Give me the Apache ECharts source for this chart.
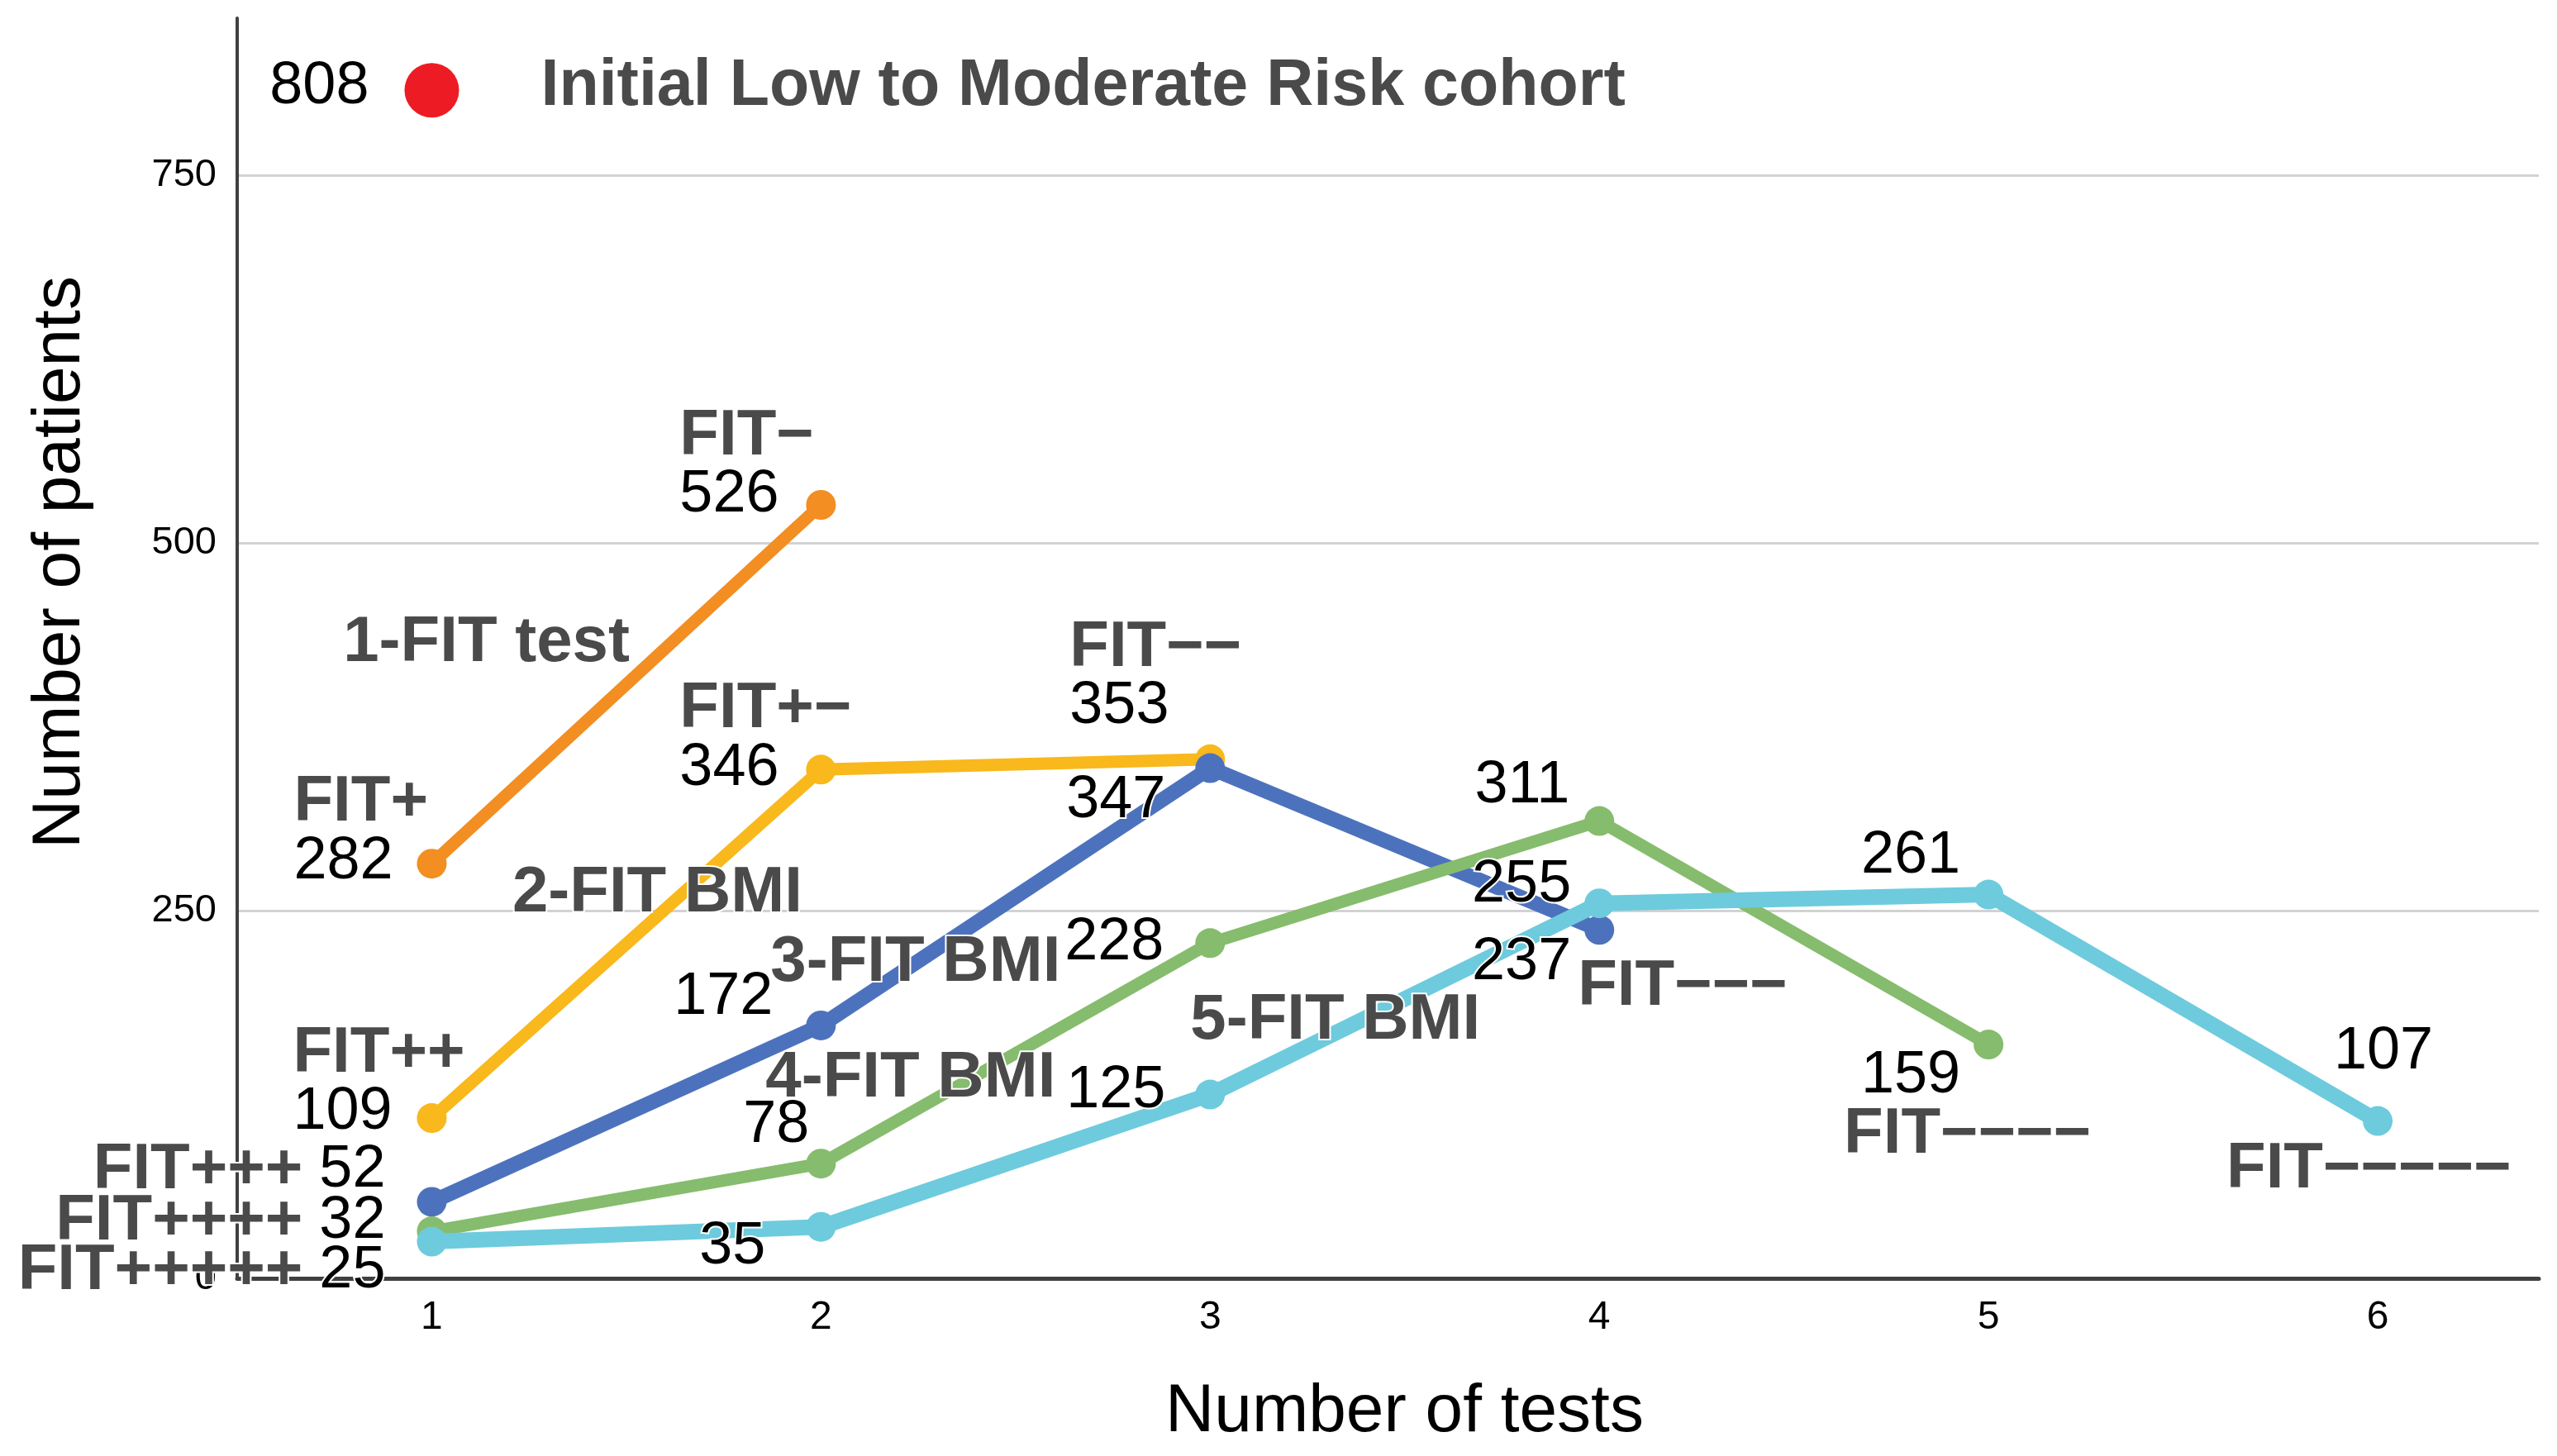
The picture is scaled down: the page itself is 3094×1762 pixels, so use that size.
<!DOCTYPE html>
<html><head><meta charset="utf-8">
<script src="https://cdn.jsdelivr.net/npm/echarts@6/dist/echarts.min.js"></script>
<style>html,body{margin:0;padding:0;background:#fff}#c{width:3094px;height:1762px}</style>
</head><body><div id="c"></div>
<script>
// ---------- data ----------
const testNumbers = [1, 2, 3, 4, 5, 6];
const cohortName = 'Initial Low to Moderate Risk cohort';
const cohortValue = 808;
const seriesNames = ['1-FIT test', '2-FIT BMI', '3-FIT BMI', '4-FIT BMI', '5-FIT BMI'];
const fit1Values = [282, 526];
const fit2Values = [109, 346, 353];
const fit3Values = [52, 172, 347, 237];
const fit4Values = [32, 78, 228, 311, 159];
const fit5Values = [25, 35, 125, 255, 261, 107];
const fit1Codes = ['FIT+', 'FIT\u2212'];
const fit2Codes = ['FIT++', 'FIT+\u2212', 'FIT\u2212\u2212'];
const fit3Codes = ['FIT+++', '', '', 'FIT\u2212\u2212\u2212'];
const fit4Codes = ['FIT++++', '', '', '', 'FIT\u2212\u2212\u2212\u2212'];
const fit5Codes = ['FIT+++++', '', '', '', '', 'FIT\u2212\u2212\u2212\u2212\u2212'];
const xAxisTitle = 'Number of tests';
const yAxisTitle = 'Number of patients';

// ---------- styling ----------
const values = [fit1Values, fit2Values, fit3Values, fit4Values, fit5Values];
const codes = [fit1Codes, fit2Codes, fit3Codes, fit4Codes, fit5Codes];
const colors = ['#F28E22', '#F9B81B', '#4D72BD', '#86BC6D', '#6DCBDD'];
const lineWidths = [15, 15, 18, 15, 19];
const FONT = "'Liberation Sans', Arial, Helvetica, sans-serif";

const N = (s, i) => `{n|${values[s][i]}}`;
const NS = (s, i) => `{n| ${values[s][i]}}`;
const C = (s, i) => `{c|${codes[s][i]}}`;
const S = s => `{c|${seriesNames[s]}}`;
function anchor(s, at) {
  if (Array.isArray(at)) {
    return [(testNumbers[at[0]] + testNumbers[at[1]]) / 2, (values[s][at[0]] + values[s][at[1]]) / 2];
  }
  return [testNumbers[at], values[s][at]];
}
// [series, anchor(index or segment), text, align, dx, dy]
const notes = [
  [0, 0, C(0,0) + '\n' + N(0,0), 'left', -167, -38],
  [0, 1, C(0,1) + '\n' + N(0,1), 'left', -171, -47],
  [0, [0,1], S(0), 'right', 4, -50],

  [1, 0, C(1,0) + '\n' + N(1,0), 'left', -168, -42],
  [1, 1, C(1,1) + '\n' + N(1,1), 'left', -171, -37],
  [1, 2, C(1,2) + '\n' + N(1,2), 'left', -170, -99],
  [1, [0,1], S(1), 'left', -138, -61],

  [2, 0, C(2,0) + NS(2,0), 'right', -56, -38],
  [2, 1, N(2,1), 'right', -58, -34],
  [2, 2, N(2,2), 'right', -54, 40],
  [2, 3, N(2,3), 'right', -34, 40],
  [2, 3, C(2,3), 'left', -26, 69],
  [2, 1, S(2), 'left', -61, -75],

  [3, 0, C(3,0) + NS(3,0), 'right', -56, -12],
  [3, 1, N(3,1), 'right', -14, -46],
  [3, 2, N(3,2), 'right', -56, 0],
  [3, 3, N(3,3), 'right', -36, -42],
  [3, 4, N(3,4), 'right', -34, 38],
  [3, 4, C(3,4), 'left', -175, 109],
  [3, 1, S(3), 'left', -67, -103],

  [4, 0, C(4,0) + NS(4,0), 'right', -56, 36],
  [4, 1, N(4,1), 'right', -67, 24],
  [4, 2, N(4,2), 'right', -54, -4],
  [4, 3, N(4,3), 'right', -34, -22],
  [4, 4, N(4,4), 'right', -34, -46],
  [4, 5, N(4,5), 'right', 67, -83],
  [4, 5, C(4,5), 'left', -183, 59],
  [4, 2, S(4), 'left', -24, -89]
];

const rich = {
  n: { fontFamily: FONT, fontSize: 72, color: '#000000', lineHeight: 71, textBorderColor: '#ffffff', textBorderWidth: 4 },
  c: { fontFamily: FONT, fontSize: 78, fontWeight: 'bold', color: '#4A4A4A', lineHeight: 71, textBorderColor: '#ffffff', textBorderWidth: 4 },
  t: { fontFamily: FONT, fontSize: 79, fontWeight: 'bold', color: '#4A4A4A', lineHeight: 80 }
};

const annotationData = notes.map(([s, at, text, align, dx, dy]) => ({
  value: anchor(s, at),
  label: { formatter: text, align: align, offset: [dx, dy] }
}));
annotationData.push({
  value: [testNumbers[0], cohortValue],
  label: { formatter: `{n|${cohortValue}}`, align: 'right', offset: [-76, -4] }
});
annotationData.push({
  value: [testNumbers[0], cohortValue],
  label: { formatter: `{t|${cohortName}}`, align: 'left', offset: [132, -4] }
});

const lineSeries = values.map((vals, s) => ({
  name: seriesNames[s],
  type: 'line',
  data: vals.map((v, i) => [testNumbers[i], v]),
  symbol: 'circle',
  symbolSize: 36,
  lineStyle: { color: colors[s], width: lineWidths[s] },
  itemStyle: { color: colors[s], opacity: 1 },
  z: 2 + s
}));

const option = {
  animation: false,
  backgroundColor: '#ffffff',
  grid: { left: 287, right: 22, top: 22, bottom: 215, containLabel: false },
  xAxis: {
    type: 'value', min: 0.5, max: 6.414, interval: 0.5,
    axisLine: { show: true, lineStyle: { color: '#404040', width: 5 } },
    axisTick: { show: false },
    splitLine: { show: false },
    axisLabel: {
      fontFamily: FONT, fontSize: 48, color: '#000000', margin: 24,
      showMinLabel: false, showMaxLabel: false,
      formatter: v => (Number.isInteger(v) ? String(v) : '')
    },
    name: xAxisTitle, nameLocation: 'middle', nameGap: 121,
    nameTextStyle: { fontFamily: FONT, fontSize: 82, color: '#000000', padding: [0, 0, 0, 40] }
  },
  yAxis: {
    type: 'value', min: 0, max: 857, interval: 250,
    axisLine: { show: true, lineStyle: { color: '#404040', width: 4 } },
    axisTick: { show: false },
    splitLine: { show: true, showMaxLine: false, lineStyle: { color: '#D2D2D2', width: 3 } },
    axisLabel: { fontFamily: FONT, fontSize: 47, color: '#000000', margin: 25, showMaxLabel: false },
    name: yAxisTitle, nameLocation: 'middle', nameGap: 173, nameRotate: 90,
    nameTextStyle: { fontFamily: FONT, fontSize: 82, color: '#000000', padding: [0, 0, 0, 208] }
  },
  series: lineSeries.concat([
    {
      name: cohortName,
      type: 'scatter',
      data: [[testNumbers[0], cohortValue]],
      symbolSize: 66,
      itemStyle: { color: '#ED1C24', opacity: 1 },
      z: 8
    },
    {
      name: 'annotations',
      type: 'scatter',
      silent: true,
      data: annotationData,
      symbolSize: 1,
      itemStyle: { color: 'rgba(0,0,0,0)', opacity: 1 },
      label: { show: true, position: 'inside', verticalAlign: 'middle', rich: rich },
      z: 20
    }
  ])
};

const chart = echarts.init(document.getElementById('c'), null, { renderer: 'canvas' });
chart.setOption(option);
</script>
</body></html>
